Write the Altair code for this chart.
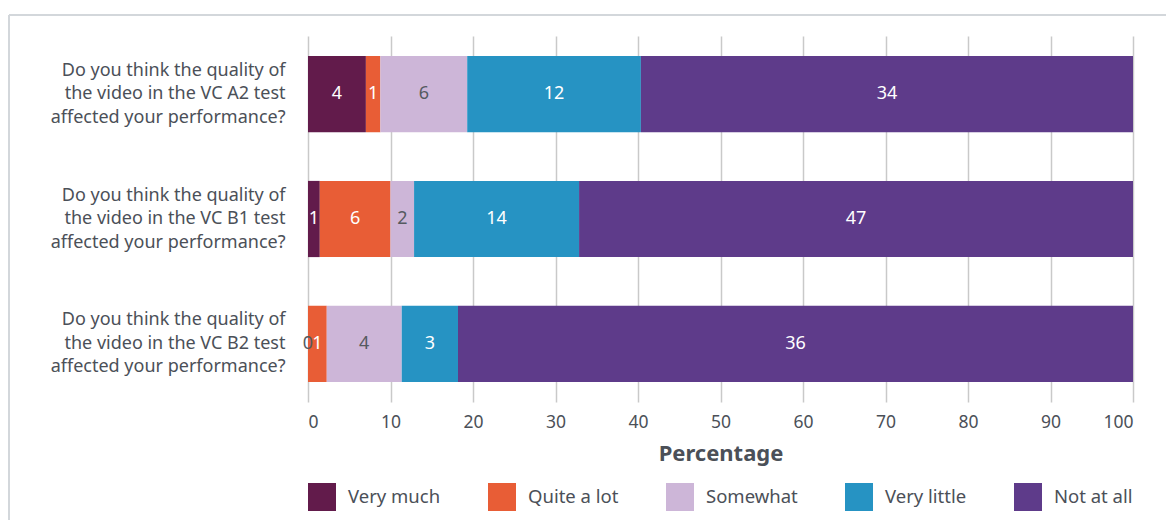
import altair as alt
import pandas as pd

categories = ["Very much", "Quite a lot", "Somewhat", "Very little", "Not at all"]
colors = ["#621b4b", "#e85d36", "#cdb6d8", "#2693c3", "#5e3b8a"]
questions = [
    "Do you think the quality of|the video in the VC A2 test|affected your performance?",
    "Do you think the quality of|the video in the VC B1 test|affected your performance?",
    "Do you think the quality of|the video in the VC B2 test|affected your performance?",
]
counts_a2 = [4, 1, 6, 12, 34]
counts_b1 = [1, 6, 2, 14, 47]
counts_b2 = [0, 1, 4, 3, 36]
x_ticks = [0, 10, 20, 30, 40, 50, 60, 70, 80, 90, 100]

rows = []
for q, counts in zip(questions, [counts_a2, counts_b1, counts_b2]):
    for i, (c, n) in enumerate(zip(categories, counts)):
        rows.append({"question": q, "category": c, "order": i, "count": n})
df = pd.DataFrame(rows)

FONT = "Noto Sans"
TXT = "#4b5058"

base = (
    alt.Chart(df)
    .transform_joinaggregate(total="sum(count)", groupby=["question"])
    .transform_calculate(pct="datum.count / datum.total * 100")
    .transform_stack(stack="pct", groupby=["question"], sort=[alt.SortField("order")], as_=["x0", "x1"])
    .transform_calculate(mid="(datum.x0 + datum.x1) / 2")
)

yenc = alt.Y(
    "question:N",
    sort=questions,
    title=None,
    scale=alt.Scale(paddingInner=0.39, paddingOuter=0.16),
    axis=alt.Axis(
        labelExpr="split(datum.label, '|')",
        labelFontSize=18,
        labelLineHeight=23.5,
        labelOffset=-23.5,
        labelColor=TXT,
        labelFont=FONT,
        labelPadding=23,
        domain=False,
        ticks=False,
        labelLimit=400,
    ),
)

bars = base.mark_bar().encode(
    x=alt.X(
        "x0:Q",
        title="Percentage",
        scale=alt.Scale(domain=[0, 100], nice=False),
        axis=alt.Axis(
            values=x_ticks,
            grid=True,
            gridColor="#c9c9c9",
            gridWidth=1.5,
            domain=False,
            ticks=False,
            labelFontSize=17.5,
            labelColor=TXT,
            labelFont=FONT,
            labelPadding=11,
            titleFontSize=22,
            titleFont=FONT,
            titleFontWeight="bold",
            titleColor=TXT,
            titlePadding=13,
        ),
    ),
    x2="x1:Q",
    y=yenc,
    color=alt.Color(
        "category:N",
        sort=categories,
        scale=alt.Scale(domain=categories, range=colors),
        legend=alt.Legend(
            title=None,
            orient="bottom",
            direction="horizontal",
            symbolType="square",
            symbolSize=784,
            symbolStrokeWidth=0,
            symbolOpacity=1,
            labelFontSize=18.5,
            labelFont=FONT,
            labelColor=TXT,
            labelOffset=12,
            columnPadding=47,
            offset=18,
        ),
    ),
)

labels = base.mark_text(fontSize=18, font=FONT).encode(
    x=alt.X("mid:Q"),
    y=alt.Y("question:N", sort=questions),
    text=alt.Text("count:Q"),
    color=alt.condition(
        "datum.category == 'Somewhat' || datum.count == 0",
        alt.value("#555a60"),
        alt.value("white"),
    ),
)

frame_df = pd.DataFrame({"a": [0]})
top_line = alt.Chart(frame_df).mark_rule(color="#d3d7db", strokeWidth=2).encode(
    x=alt.value(-299), x2=alt.value(858), y=alt.value(-21)
)
left_line = alt.Chart(frame_df).mark_rule(color="#d3d7db", strokeWidth=2).encode(
    x=alt.value(-299), y=alt.value(-21), y2=alt.value(484)
)

chart = (
    alt.layer(top_line, left_line, bars, labels)
    .properties(
        width=825,
        height=366,
        padding={"left": 308, "top": 36, "right": 33, "bottom": 118},
        autosize=alt.AutoSizeParams(type="none"),
    )
    .configure_view(stroke=None)
)

chart.save("out.html", embed_options={"renderer": "svg", "actions": False})
